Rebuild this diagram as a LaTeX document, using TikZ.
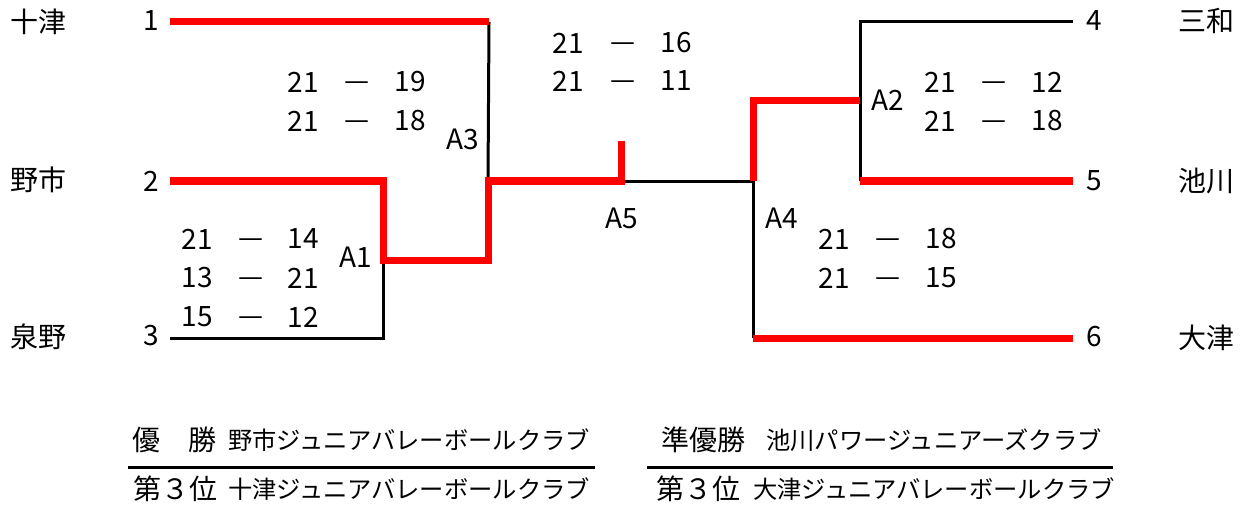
\documentclass[tikz,border=0pt]{standalone}
\usepackage{fontspec}
\setmainfont{Noto Sans CJK JP}
\begin{document}
\begin{tikzpicture}[x=1pt,y=-1pt,
  win/.style={draw=red,line width=7pt,line join=miter},
  lose/.style={draw=black,line width=3pt},
  lbl/.style={font=\fontsize{28}{32}\selectfont,inner sep=0pt,anchor=center},
  dsh/.style={lbl,yshift=-4pt},
  head/.style={font=\fontsize{28}{32}\selectfont,inner sep=0pt,anchor=center},
  club/.style={font=\fontsize{24.3}{28}\selectfont,inner sep=0pt,anchor=center},
  rule/.style={draw=black,line width=3pt}]
\useasboundingbox (0,0) rectangle (1246,513);
% team names
\node[lbl] (tn1) at (38,22) {十津};
\node[lbl] (tn2) at (38,180) {野市};
\node[lbl] (tn3) at (38,337) {泉野};
\node[lbl] (tn4) at (1206,21) {三和};
\node[lbl] (tn5) at (1206,181) {池川};
\node[lbl] (tn6) at (1206,338) {大津};
% seed numbers
\node[lbl] (n1) at (151,21) {1};
\node[lbl] (n2) at (151,181) {2};
\node[lbl] (n3) at (151,336) {3};
\node[lbl] (n4) at (1094,21) {4};
\node[lbl] (n5) at (1094,181) {5};
\node[lbl] (n6) at (1094,337) {6};
% corner coordinates
\coordinate (a1) at (170,22);
\coordinate (a2) at (489,22);
\coordinate (a3) at (488,181);
\coordinate (b1) at (170,181);
\coordinate (b2) at (383,181);
\coordinate (b3) at (383,260);
\coordinate (b4) at (488,260);
\coordinate (c1) at (170,338);
\coordinate (c2) at (383,338);
\coordinate (m1) at (621,181);
\coordinate (m2) at (621,141);
\coordinate (m3) at (753,181);
\coordinate (d1) at (753,338);
\coordinate (d2) at (1073,338);
\coordinate (e1) at (753,101);
\coordinate (e2) at (860,101);
\coordinate (f1) at (860,22);
\coordinate (f2) at (1073,22);
\coordinate (g1) at (860,181);
\coordinate (g2) at (1073,181);
% black (losing) lines
\draw[lose] (a2) -- (a3);
\draw[lose] (b3) -- (c2) -- (c1);
\draw[lose] (m1) -- (m3) -- (d1);
\draw[lose] (f2) -- (f1) -- (g1);
% red (winning) lines
\draw[win] (a1) -- (a2);
\draw[win] (b1) -- (b2) -- (b3) -- (b4) -- (a3) -- (m1) -- (m2);
\draw[win] (m3) -- (e1) -- (e2);
\draw[win] (g1) -- (g2);
\draw[win] (d1) -- (d2);
% match labels
\node[lbl] (A1) at (356,257) {A1};
\node[lbl] (A2) at (888,100) {A2};
\node[lbl] (A3) at (463,139) {A3};
\node[lbl] (A4) at (782,218) {A4};
\node[lbl] (A5) at (622,218) {A5};
% scores A3
\node[lbl] (s31a) at (303,82) {21};
\node[dsh] (s31b) at (357,82) {—};
\node[lbl] (s31c) at (410,82) {19};
\node[lbl] (s32a) at (303,121) {21};
\node[dsh] (s32b) at (357,121) {—};
\node[lbl] (s32c) at (410,121) {18};
% scores A1
\node[lbl] (s11a) at (197,239) {21};
\node[dsh] (s11b) at (251,239) {—};
\node[lbl] (s11c) at (303,239) {14};
\node[lbl] (s12a) at (197,278) {13};
\node[dsh] (s12b) at (251,278) {—};
\node[lbl] (s12c) at (303,278) {21};
\node[lbl] (s13a) at (197,317) {15};
\node[dsh] (s13b) at (251,317) {—};
\node[lbl] (s13c) at (303,317) {12};
% scores A5
\node[lbl] (s51a) at (568,43) {21};
\node[dsh] (s51b) at (623,43) {—};
\node[lbl] (s51c) at (676,43) {16};
\node[lbl] (s52a) at (568,81) {21};
\node[dsh] (s52b) at (623,81) {—};
\node[lbl] (s52c) at (676,81) {11};
% scores A2
\node[lbl] (s21a) at (940,82) {21};
\node[dsh] (s21b) at (994,82) {—};
\node[lbl] (s21c) at (1047,82) {12};
\node[lbl] (s22a) at (940,121) {21};
\node[dsh] (s22b) at (994,121) {—};
\node[lbl] (s22c) at (1047,121) {18};
% scores A4
\node[lbl] (s41a) at (834,239) {21};
\node[dsh] (s41b) at (888,239) {—};
\node[lbl] (s41c) at (941,239) {18};
\node[lbl] (s42a) at (834,278) {21};
\node[dsh] (s42b) at (888,278) {—};
\node[lbl] (s42c) at (941,278) {15};
% results
\node[head] (h1) at (174,440) {優　勝};
\node[club] (c1n) at (409,440) {野市ジュニアバレーボールクラブ};
\node[head] (h2) at (175,489) {第３位};
\node[club] (c2n) at (409,489) {十津ジュニアバレーボールクラブ};
\node[head] (h3) at (703,440) {準優勝};
\node[club] (c3n) at (934,440) {池川パワージュニアーズクラブ};
\node[head] (h4) at (698,489) {第３位};
\node[club] (c4n) at (934,489) {大津ジュニアバレーボールクラブ};
\coordinate (r1) at (128,467);
\coordinate (r2) at (595,467);
\coordinate (r3) at (647,467);
\coordinate (r4) at (1113,467);
\draw[rule] (r1) -- (r2);
\draw[rule] (r3) -- (r4);
\end{tikzpicture}
\end{document}
